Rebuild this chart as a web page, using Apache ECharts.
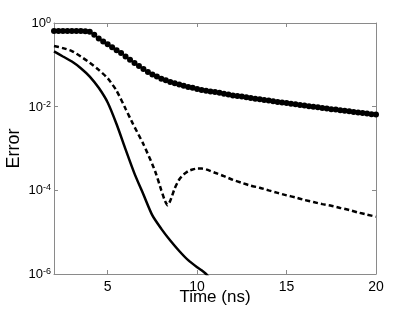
<!DOCTYPE html>
<html>
<head>
<meta charset="utf-8">
<script src="https://cdn.jsdelivr.net/npm/echarts@6/dist/echarts.min.js"></script>
<style>html,body{margin:0;padding:0;background:#fff}#c{width:415px;height:309px}</style>
</head>
<body>
<div id="c"></div>
<script>
// Tick labels
const xTicks = [5, 10, 15, 20];
const yTicks = [1e-6, 1e-4, 1e-2, 1];

// Series 1: marker (dotted) curve
const timeMarkers = [2.0,2.25,2.5,2.75,3.0,3.25,3.5,3.75,4.0,4.25,4.5,4.75,5.0,5.25,5.5,5.75,6.0,6.25,6.5,6.75,7.0,7.25,7.5,7.75,8.0,8.25,8.5,8.75,9.0,9.25,9.5,9.75,10.0,10.25,10.5,10.75,11.0,11.25,11.5,11.75,12.0,12.25,12.5,12.75,13.0,13.25,13.5,13.75,14.0,14.25,14.5,14.75,15.0,15.25,15.5,15.75,16.0,16.25,16.5,16.75,17.0,17.25,17.5,17.75,18.0,18.25,18.5,18.75,19.0,19.25,19.5,19.75,20.0];
const errorMarkers = [0.646,0.646,0.646,0.646,0.646,0.646,0.646,0.638,0.617,0.525,0.427,0.363,0.309,0.263,0.224,0.191,0.158,0.132,0.110,0.0933,0.0794,0.0676,0.0589,0.0525,0.0468,0.0427,0.0389,0.0363,0.0339,0.0316,0.0295,0.0282,0.0263,0.0251,0.0240,0.0229,0.0224,0.0214,0.0204,0.0195,0.0186,0.0180,0.0174,0.0168,0.0162,0.0155,0.0150,0.0145,0.0140,0.0135,0.0130,0.0126,0.0122,0.0117,0.0114,0.0110,0.0106,0.0102,0.0100,0.00966,0.00933,0.00902,0.00871,0.00851,0.00822,0.00794,0.00776,0.00750,0.00724,0.00708,0.00684,0.00661,0.00646];

// Series 2: dashed curve
const timeDashed = [2.0,2.5,3.0,3.5,4.0,4.5,5.0,5.5,6.0,6.4,7.0,7.5,7.7,8.0,8.2,8.35,8.5,8.75,9.0,9.25,9.5,9.75,10.0,10.25,10.5,11.0,11.5,12.0,12.5,13.0,13.5,14.0,14.5,15.0,15.5,16.0,16.5,17.0,17.5,18.0,18.5,19.0,19.5,20.0];
const errorDashed = [0.282,0.251,0.214,0.158,0.112,0.0759,0.0479,0.0240,0.00891,0.00398,0.00126,4.17e-4,2.51e-4,1.0e-4,5.62e-5,4.37e-5,5.62e-5,1.12e-4,1.82e-4,2.40e-4,2.88e-4,3.16e-4,3.31e-4,3.31e-4,3.16e-4,2.63e-4,2.19e-4,1.78e-4,1.51e-4,1.29e-4,1.15e-4,1.0e-4,8.71e-5,7.59e-5,6.76e-5,5.89e-5,5.25e-5,4.68e-5,4.27e-5,3.80e-5,3.39e-5,2.95e-5,2.63e-5,2.34e-5];

// Series 3: solid curve
const timeSolid = [2.0,2.5,3.0,3.5,4.0,4.5,5.0,5.5,6.0,6.5,7.0,7.5,8.0,8.5,9.0,9.5,10.0,10.25,10.5,10.8];
const errorSolid = [0.209,0.158,0.120,0.0832,0.0525,0.0282,0.0126,0.00380,9.55e-4,2.51e-4,7.94e-5,2.51e-5,1.20e-5,6.31e-6,3.55e-6,2.14e-6,1.45e-6,1.23e-6,1.0e-6,7.1e-7];

const pairs = (xs, ys) => xs.map((x, i) => [x, ys[i]]);
const FONT = 'Liberation Sans, Arial, Helvetica, sans-serif';
const AX = '#8a8a8a';

const chart = echarts.init(document.getElementById('c'), null, {renderer: 'canvas'});
const yLabel = v => {
  const e = Math.round(Math.log10(v));
  return '{b|10}{s|' + (e === 0 ? '0' : '-' + (-e)) + '}';
};
chart.setOption({
  animation: false,
  backgroundColor: '#fff',
  grid: {left: 54, right: 39, top: 23, bottom: 35, show: false, containLabel: false, outerBoundsMode: 'none'},
  xAxis: [{
    type: 'value', min: 2, max: 20, position: 'bottom',
    axisLine: {show: true, onZero: false, lineStyle: {color: AX, width: 1}},
    axisTick: {show: true, inside: true, length: 4, customValues: xTicks, lineStyle: {color: AX}},
    axisLabel: {show: true, customValues: xTicks, color: '#000', fontFamily: FONT, fontSize: 14, margin: 6},
    splitLine: {show: false},
    name: 'Time (ns)', nameLocation: 'middle', nameGap: 15, nameMoveOverlap: false,
    nameTextStyle: {color: '#000', fontFamily: FONT, fontSize: 17}
  }, {
    type: 'value', min: 2, max: 20, position: 'top',
    axisLine: {show: true, onZero: false, lineStyle: {color: AX, width: 1}},
    axisTick: {show: true, inside: true, length: 4, customValues: xTicks, lineStyle: {color: AX}},
    axisLabel: {show: false},
    splitLine: {show: false}
  }],
  yAxis: [{
    type: 'log', logBase: 10, min: 1e-6, max: 1, interval: 2, position: 'left',
    axisLine: {show: true, onZero: false, lineStyle: {color: AX, width: 1}},
    axisTick: {show: true, inside: true, length: 4, lineStyle: {color: AX}},
    minorTick: {show: false},
    axisLabel: {
      show: true, margin: 3, formatter: yLabel,
      rich: {
        b: {fontFamily: FONT, fontSize: 13, color: '#000', lineHeight: 14, verticalAlign: 'bottom'},
        s: {fontFamily: FONT, fontSize: 9, color: '#000', lineHeight: 14, verticalAlign: 'top'}
      }
    },
    splitLine: {show: false},
    name: 'Error', nameLocation: 'middle', nameGap: 31, nameRotate: 90, nameMoveOverlap: false,
    nameTextStyle: {color: '#000', fontFamily: FONT, fontSize: 18}
  }, {
    type: 'log', logBase: 10, min: 1e-6, max: 1, interval: 2, position: 'right',
    axisLine: {show: true, onZero: false, lineStyle: {color: AX, width: 1}},
    axisTick: {show: true, inside: true, length: 4, lineStyle: {color: AX}},
    axisLabel: {show: false},
    splitLine: {show: false}
  }],
  series: [{
    type: 'line', xAxisIndex: 0, yAxisIndex: 0,
    data: pairs(timeSolid, errorSolid),
    showSymbol: false, smooth: 0.25, clip: true,
    lineStyle: {color: '#000', width: 2.5}
  }, {
    type: 'line', xAxisIndex: 0, yAxisIndex: 0,
    data: pairs(timeDashed, errorDashed),
    showSymbol: false, smooth: 0.2, clip: true,
    lineStyle: {color: '#000', width: 2.5, type: [5, 3]}
  }, {
    type: 'line', xAxisIndex: 0, yAxisIndex: 0,
    data: pairs(timeMarkers, errorMarkers),
    showSymbol: true, symbol: 'circle', symbolSize: 6, clip: true,
    itemStyle: {color: '#000'},
    lineStyle: {color: '#000', width: 1}
  }]
});
</script>
</body>
</html>
